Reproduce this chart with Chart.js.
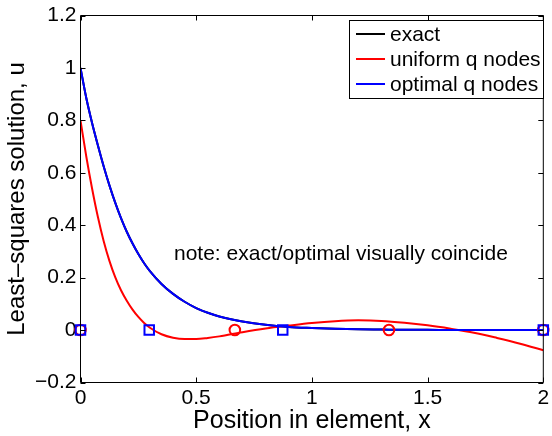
<!DOCTYPE html>
<html>
<head>
<meta charset="utf-8">
<script src="https://cdn.jsdelivr.net/npm/chart.js"></script>
<style>
  html, body { margin: 0; padding: 0; background: #fff; }
  canvas { display: block; }
</style>
</head>
<body>
<canvas id="plot" width="552" height="436"></canvas>
<script>
// sample positions along the element
const xPos = [0, 0.025, 0.05, 0.075, 0.1, 0.125, 0.15, 0.175, 0.2, 0.225, 0.25, 0.275,
  0.3, 0.35, 0.4, 0.45, 0.5, 0.55, 0.6, 0.7, 0.8, 0.9, 1.0, 1.1, 1.2, 1.3, 1.4,
  1.5, 1.6, 1.7, 1.8, 1.9, 2.0];

const exactU = [1.0, 0.885, 0.79, 0.705, 0.625, 0.552, 0.486, 0.427, 0.375, 0.33, 0.29, 0.255,
  0.225, 0.176, 0.138, 0.108, 0.084, 0.066, 0.052, 0.033, 0.02, 0.012, 0.008, 0.005, 0.003,
  0.002, 0.001, 0.001, 0, 0, 0, 0, 0];

const optimalU = [1.0, 0.885, 0.79, 0.705, 0.625, 0.552, 0.486, 0.427, 0.375, 0.33, 0.29, 0.255,
  0.225, 0.176, 0.138, 0.108, 0.084, 0.066, 0.052, 0.033, 0.02, 0.012, 0.008, 0.005, 0.003,
  0.002, 0.001, 0.001, 0, 0, 0, 0, 0];

const uniformU = [0.80, 0.662, 0.54, 0.432, 0.34, 0.264, 0.202, 0.152, 0.112, 0.078, 0.05, 0.027,
  0.009, -0.016, -0.029, -0.034, -0.034, -0.03, -0.024, -0.008, 0.006, 0.017, 0.027, 0.034,
  0.037, 0.035, 0.028, 0.018, 0.005, -0.01, -0.03, -0.052, -0.077];

// quadrature node locations
const uniformNodes = [0, 0.667, 1.333, 2];
const optimalNodes = [0, 0.297, 0.874, 2];

const xTicks = [0, 0.5, 1, 1.5, 2];
const yTicks = [-0.2, 0, 0.2, 0.4, 0.6, 0.8, 1, 1.2];

const legendLabels = ['exact', 'uniform q nodes', 'optimal q nodes'];
const legendColors = ['#000000', '#ff0000', '#0000ff'];
const noteText = 'note: exact/optimal visually coincide';
const noteAt = {x: 0.404, y: 0.29};

const FONT = '"Liberation Sans", Arial, Helvetica, sans-serif';

const pts = (xs, ys) => xs.map((x, i) => ({x: x, y: ys[i]}));
const nodes = xs => xs.map(x => ({x: x, y: 0}));

function fmt(v) {
  const r = Math.round(v * 10) / 10;
  if (r < 0) return '\u2212' + String(-r);
  return String(r);
}

// box, inward ticks on all four sides, note and legend
const decorations = {
  id: 'decorations',
  afterDatasetsDraw(chart) {
    const {ctx, chartArea: a, scales: {x, y}} = chart;
    ctx.save();
    ctx.strokeStyle = '#000';
    ctx.lineWidth = 1;
    ctx.beginPath();
    ctx.rect(a.left, a.top, a.right - a.left, a.bottom - a.top);
    ctx.stroke();
    const tl = 5;
    ctx.beginPath();
    xTicks.forEach(v => {
      const px = Math.round(x.getPixelForValue(v)) + 0.5;
      ctx.moveTo(px, a.bottom); ctx.lineTo(px, a.bottom - tl);
      ctx.moveTo(px, a.top); ctx.lineTo(px, a.top + tl);
    });
    yTicks.forEach(v => {
      const py = Math.round(y.getPixelForValue(v)) + 0.5;
      ctx.moveTo(a.left, py); ctx.lineTo(a.left + tl, py);
      ctx.moveTo(a.right, py); ctx.lineTo(a.right - tl, py);
    });
    ctx.stroke();

    ctx.fillStyle = '#000';
    ctx.font = '21px ' + FONT;
    ctx.textAlign = 'left';
    ctx.textBaseline = 'middle';
    ctx.fillText(noteText, x.getPixelForValue(noteAt.x), y.getPixelForValue(noteAt.y));

    // legend
    const bx = 349.5, by = 20.5, bw = 194, bh = 78;
    ctx.fillStyle = '#fff';
    ctx.fillRect(bx, by, bw, bh);
    ctx.strokeStyle = '#000';
    ctx.strokeRect(bx, by, bw, bh);
    legendLabels.forEach((lab, i) => {
      const ly = 34 + i * 25;
      ctx.strokeStyle = legendColors[i];
      ctx.lineWidth = 2;
      ctx.beginPath();
      ctx.moveTo(356, ly); ctx.lineTo(385, ly);
      ctx.stroke();
      ctx.fillStyle = '#000';
      ctx.fillText(lab, 390, ly + 1);
    });
    ctx.restore();
  }
};

const lineStyle = {
  borderWidth: 2,
  pointRadius: 0,
  fill: false,
  cubicInterpolationMode: 'monotone'
};

new Chart(document.getElementById('plot'), {
  type: 'scatter',
  data: {
    datasets: [
      {label: 'optimal nodes', data: nodes(optimalNodes), showLine: false, pointStyle: 'rect',
        pointRadius: 6.7, borderColor: '#0000ff', backgroundColor: 'rgba(0,0,0,0)',
        borderWidth: 2, clip: false},
      {label: 'uniform nodes', data: nodes(uniformNodes), showLine: false, pointStyle: 'circle',
        pointRadius: 5.3, borderColor: '#ff0000', backgroundColor: 'rgba(0,0,0,0)',
        borderWidth: 2, clip: false},
      Object.assign({label: legendLabels[2], data: pts(xPos, optimalU), showLine: true,
        borderColor: '#0000ff'}, lineStyle),
      Object.assign({label: legendLabels[1], data: pts(xPos, uniformU), showLine: true,
        borderColor: '#ff0000'}, lineStyle),
      Object.assign({label: legendLabels[0], data: pts(xPos, exactU), showLine: true,
        borderColor: '#000000'}, lineStyle)
    ]
  },
  options: {
    responsive: false,
    animation: false,
    devicePixelRatio: 1,
    layout: {padding: {left: 0, right: 4.5, top: 15.5, bottom: 0}},
    plugins: {legend: {display: false}, tooltip: {enabled: false}},
    scales: {
      x: {
        type: 'linear', min: 0, max: 2,
        afterBuildTicks: s => { s.ticks = xTicks.map(v => ({value: v})); },
        ticks: {padding: 3, color: '#000', maxRotation: 0, font: {family: FONT, size: 21},
          callback: v => fmt(v)},
        grid: {display: false, drawTicks: false},
        border: {display: false},
        title: {display: true, text: 'Position in element, x', color: '#000',
          font: {family: FONT, size: 25}, padding: {top: 0, bottom: 0}},
        afterFit: s => { s.height = 53.5; s.paddingLeft = 0; s.paddingRight = 0; }
      },
      y: {
        type: 'linear', min: -0.2, max: 1.2,
        afterBuildTicks: s => { s.ticks = yTicks.map(v => ({value: v})); },
        ticks: {padding: 4, color: '#000', font: {family: FONT, size: 21},
          callback: v => fmt(v)},
        grid: {display: false, drawTicks: false},
        border: {display: false},
        title: {display: true, text: 'Least\u2013squares solution, u', color: '#000',
          font: {family: FONT, size: 24}, padding: {top: 3, bottom: 0}},
        afterFit: s => { s.width = 80.5; s.paddingTop = 0; s.paddingBottom = 0; }
      }
    }
  },
  plugins: [decorations]
});
</script>
</body>
</html>
